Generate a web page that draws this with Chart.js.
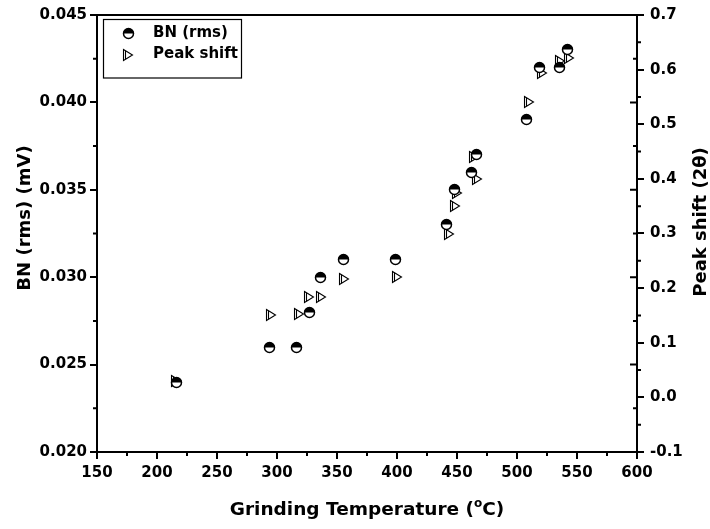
<!DOCTYPE html>
<html><head><meta charset="utf-8">
<script src="https://cdn.jsdelivr.net/npm/chart.js@4"></script>
<style>html,body{margin:0;padding:0;background:#fff}</style>
</head><body>
<canvas id="c" width="710" height="529"></canvas>
<script>
// ---- data ----
const temperatureBN = [216, 294, 316, 327, 336, 355, 399, 441, 448, 462, 466, 508, 519, 535, 542];
const bnRms = [0.024, 0.026, 0.026, 0.028, 0.030, 0.031, 0.031, 0.033, 0.035, 0.036, 0.037, 0.039, 0.042, 0.042, 0.043];
const temperaturePeak = [216, 295, 318, 327, 337, 356, 400, 443, 448, 450, 464, 467, 510, 521, 536, 543];
const peakShift = [0.03, 0.151, 0.153, 0.183, 0.183, 0.216, 0.22, 0.30, 0.35, 0.374, 0.44, 0.40, 0.54, 0.594, 0.615, 0.622];
const seriesNames = ['BN (rms)', 'Peak shift'];
const xTickValues = [150, 200, 250, 300, 350, 400, 450, 500, 550, 600];
const bnTickValues = [0.020, 0.025, 0.030, 0.035, 0.040, 0.045];
const peakTickValues = [-0.1, 0.0, 0.1, 0.2, 0.3, 0.4, 0.5, 0.6, 0.7];
const xTitle = ['Grinding Temperature (', 'o', 'C)'];
const yTitle = 'BN (rms) (mV)';
const y1Title = 'Peak shift (2\u03B8)';

const FAM = "'DejaVu Sans', sans-serif";

function makeCircle(){
  const c=document.createElement('canvas'); c.width=13; c.height=13;
  const g=c.getContext('2d');
  g.beginPath(); g.arc(6.5,6.5,5,0,2*Math.PI); g.fillStyle='#fff'; g.fill();
  g.beginPath(); g.arc(6.5,6.5,5,Math.PI,2*Math.PI); g.closePath(); g.fillStyle='#000'; g.fill();
  g.beginPath(); g.arc(6.5,6.5,5,0,2*Math.PI); g.lineWidth=1.5; g.strokeStyle='#000'; g.stroke();
  return c;
}
function makeTri(){
  const c=document.createElement('canvas'); c.width=12; c.height=14;
  const g=c.getContext('2d');
  g.strokeStyle='#000'; g.lineWidth=1.1;
  g.beginPath(); g.moveTo(1.5,1.5); g.lineTo(10.5,7); g.lineTo(1.5,12.5); g.closePath(); g.stroke();
  g.beginPath(); g.moveTo(3.5,2.8); g.lineTo(3.5,11.2); g.stroke();
  return c;
}
const circleImg = makeCircle();
const triImg = makeTri();

const crispPlugin = {
  id:'crisp',
  beforeDatasetsDraw(chart){ chart.ctx.save(); chart.ctx.imageSmoothingEnabled=false; },
  afterDatasetsDraw(chart){ chart.ctx.restore(); }
};

const framePlugin = {
  id:'frame',
  afterDraw(chart){
    const ctx=chart.ctx, a=chart.chartArea;
    const xs=chart.scales.x, ys=chart.scales.y, y1=chart.scales.y1;
    ctx.save();
    ctx.strokeStyle='#000'; ctx.lineWidth=2;
    // top border
    ctx.beginPath(); ctx.moveTo(a.left-1, a.top); ctx.lineTo(a.right+1, a.top); ctx.stroke();
    // minor ticks
    ctx.beginPath();
    for(let i=0;i<xTickValues.length-1;i++){
      const p=xs.getPixelForValue((xTickValues[i]+xTickValues[i+1])/2);
      ctx.moveTo(p,a.bottom); ctx.lineTo(p,a.bottom+4);
    }
    for(let i=0;i<bnTickValues.length-1;i++){
      const p=ys.getPixelForValue((bnTickValues[i]+bnTickValues[i+1])/2);
      ctx.moveTo(a.left,p); ctx.lineTo(a.left-4,p);
      ctx.moveTo(a.right,p); ctx.lineTo(a.right-4,p);
    }
    for(let i=0;i<peakTickValues.length-1;i++){
      const p=y1.getPixelForValue((peakTickValues[i]+peakTickValues[i+1])/2);
      ctx.moveTo(a.right,p); ctx.lineTo(a.right+4,p);
    }
    // mirrored left-axis majors on right border (inward)
    for(const v of bnTickValues){
      const p=ys.getPixelForValue(v);
      ctx.moveTo(a.right,p); ctx.lineTo(a.right-7,p);
    }
    ctx.stroke();

    // titles
    ctx.fillStyle='#000';
    const big='bold 18.5px '+FAM, small='bold 12px '+FAM;
    ctx.font=big;
    ctx.textBaseline='alphabetic';
    const w1=ctx.measureText(xTitle[0]).width, w3=ctx.measureText(xTitle[2]).width;
    ctx.font=small;
    const w2=ctx.measureText(xTitle[1]).width;
    let sx=(a.left+a.right)/2-(w1+w2+w3)/2;
    ctx.font=big; ctx.textAlign='left';
    ctx.fillText(xTitle[0], sx, 515);
    ctx.font=small;
    ctx.fillText(xTitle[1], sx+w1, 507);
    ctx.font=big;
    ctx.fillText(xTitle[2], sx+w1+w2, 515);
    ctx.font='bold 18px '+FAM;
    ctx.textAlign='center';
    ctx.save(); ctx.translate(29.5, 218); ctx.rotate(-Math.PI/2); ctx.fillText(yTitle,0,0); ctx.restore();
    ctx.save(); ctx.translate(706, 222); ctx.rotate(-Math.PI/2); ctx.fillText(y1Title,0,0); ctx.restore();

    // legend
    ctx.lineWidth=1.2;
    ctx.strokeRect(103.5,19.5,138,58.5);
    ctx.drawImage(circleImg, 122, 27);
    ctx.drawImage(triImg, 122, 48);
    ctx.font='bold 15px '+FAM; ctx.textAlign='left'; ctx.textBaseline='middle';
    ctx.fillText(seriesNames[0], 153, 33);
    ctx.fillText(seriesNames[1], 153, 54.5);
    ctx.restore();
  }
};

function tickCfg(dec){
  return {color:'#000', font:{family:FAM, size:15, weight:'bold'}, autoSkip:false, maxRotation:0,
    callback:(v)=>Number(v).toFixed(dec)};
}
const gridCfg = {drawOnChartArea:false, drawTicks:true, tickLength:7, lineWidth:2, color:'#000'};
const borderCfg = {display:true, color:'#000', width:2};

new Chart(document.getElementById('c'), {
  type:'scatter',
  data:{datasets:[
    {label:seriesNames[0], data:temperatureBN.map((t,i)=>({x:t,y:bnRms[i]})), yAxisID:'y',
     pointStyle:circleImg, pointRadius:5, showLine:false},
    {label:seriesNames[1], data:temperaturePeak.map((t,i)=>({x:t,y:peakShift[i]})), yAxisID:'y1',
     pointStyle:triImg, pointRadius:5, showLine:false}
  ]},
  options:{
    responsive:false, animation:false, devicePixelRatio:1,
    layout:{padding:{top:15,left:0,right:0,bottom:0}},
    plugins:{legend:{display:false}, tooltip:{enabled:false}},
    scales:{
      x:{type:'linear', position:'bottom', min:150, max:600,
        afterBuildTicks:s=>{s.ticks=xTickValues.map(v=>({value:v}));},
        afterFit:s=>{s.height=77;},
        grid:gridCfg, border:borderCfg, ticks:Object.assign(tickCfg(0),{padding:5})},
      y:{type:'linear', position:'left', min:0.020, max:0.045,
        afterBuildTicks:s=>{s.ticks=bnTickValues.map(v=>({value:v}));},
        afterFit:s=>{s.width=97;},
        grid:gridCfg, border:borderCfg, ticks:Object.assign(tickCfg(3),{padding:3})},
      y1:{type:'linear', position:'right', min:-0.1, max:0.7,
        afterBuildTicks:s=>{s.ticks=peakTickValues.map(v=>({value:v}));},
        afterFit:s=>{s.width=73;},
        grid:gridCfg, border:borderCfg, ticks:Object.assign(tickCfg(1),{padding:6})}
    }
  },
  plugins:[crispPlugin, framePlugin]
});
</script>
</body></html>
